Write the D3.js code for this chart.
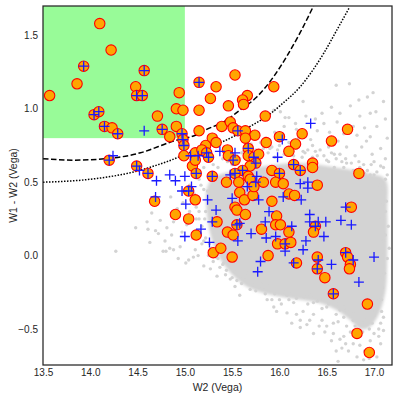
<!DOCTYPE html>
<html><head><meta charset="utf-8">
<script src="https://cdn.jsdelivr.net/npm/d3@7/dist/d3.min.js"></script>
<style>body{margin:0;background:#fff}text{font-family:"Liberation Sans",Arial,sans-serif}</style>
</head><body><svg id="c" width="399" height="399"></svg>
<script>
const xTicks=[13.5,14.0,14.5,15.0,15.5,16.0,16.5,17.0];
const yTicks=[-0.5,0.0,0.5,1.0,1.5];
const xDomain=[13.5,17.19];
const yDomain=[-0.745,1.70];
const selBox=[[13.5,0.8],[15.0,1.70]];
const dashedCurve=[[13.50,0.66],[13.82,0.65],[14.17,0.66],[14.53,0.70],[14.88,0.78],[15.11,0.82],[15.23,0.86],[15.41,0.91],[15.58,0.99],[15.76,1.08],[15.94,1.22],[16.08,1.36],[16.22,1.52],[16.36,1.70]];
const dottedCurve=[[13.50,0.50],[14.00,0.52],[14.46,0.57],[14.81,0.64],[15.13,0.72],[15.34,0.76],[15.51,0.81],[15.69,0.88],[15.87,0.95],[16.04,1.04],[16.22,1.15],[16.36,1.27],[16.47,1.38],[16.61,1.54],[16.74,1.69]];
const grayCore=[[15.30,0.53],[15.55,0.58],[15.85,0.61],[16.20,0.63],[16.60,0.60],[16.95,0.56],[17.12,0.52],[17.14,0.30],[17.14,0.00],[17.12,-0.25],[17.05,-0.40],[16.95,-0.49],[16.85,-0.50],[16.75,-0.44],[16.60,-0.37],[16.40,-0.32],[16.10,-0.29],[15.85,-0.26],[15.65,-0.21],[15.50,-0.13],[15.37,-0.02],[15.28,0.12],[15.23,0.30],[15.23,0.45]];
const grayPts=[
[16.60,1.16],[16.74,1.17],[16.93,1.08],[16.84,1.06],[17.10,1.05],[16.99,1.11],[16.25,1.05],[16.45,0.97],[16.64,0.97],[16.85,0.95],[16.96,0.97],[17.12,0.93],[16.01,0.98],[16.10,0.94],[16.17,0.90],[16.47,0.90],[16.61,0.91],[16.78,0.88],[17.03,0.88],[16.40,0.85],[16.82,0.82],[16.96,0.81],[17.14,0.80],[16.33,0.79],[16.62,0.78],[16.71,0.74],[16.87,0.74],[17.07,0.73],[16.43,0.72],[16.25,0.71],[16.64,0.69],[16.80,0.68],[16.98,0.69],[17.12,0.66],[16.50,0.65],[16.71,0.63],[16.89,0.62],[17.07,0.61],[17.14,0.55],[16.96,0.55],[16.06,0.94],[15.94,0.99],[16.18,0.86],
[15.80,0.77],[15.83,0.73],[15.69,0.72],[15.70,0.76],[15.85,0.80],[15.95,0.84],[16.05,0.88],[15.92,0.74],[16.20,0.80],[16.10,0.77],[15.60,0.70],[15.40,0.66],[15.30,0.62],[15.20,0.60],[15.15,0.52],[15.05,0.48],[15.10,0.58],
[16.53,0.84],[16.28,0.95],[16.90,0.87],[16.55,1.01],[16.75,1.02],[16.38,0.93],[17.02,0.98],[16.68,0.83],[16.92,0.78],[16.52,0.74],[16.35,0.67],[16.58,0.60],[16.78,0.58],[17.00,0.64],
[15.55,0.68],[15.65,0.74],[15.75,0.72],[15.90,0.73],[16.00,0.75],[16.20,0.74],[16.30,0.72],[16.35,0.75],[16.55,0.70],[16.60,0.66],[16.70,0.66],[16.85,0.60],[16.90,0.56],[17.00,0.50],[16.40,0.68],[16.15,0.68],
[15.35,0.60],[15.45,0.64],[15.58,0.66],[15.62,0.71],[15.72,0.69],[15.88,0.70],[15.98,0.72],[16.08,0.71],[16.18,0.73],[16.27,0.70],[16.38,0.71],[16.47,0.68],[16.58,0.69],[16.66,0.64],[16.76,0.63],[16.84,0.64],[16.93,0.58],[17.03,0.57],[16.97,0.62],
[15.50,0.62],[15.68,0.66],[15.78,0.65],[15.95,0.67],[16.05,0.69],[16.24,0.67],[16.52,0.64],[16.68,0.60],[16.82,0.56],[17.00,0.55],
[14.27,0.03],[14.48,0.19],[14.60,0.23],[14.61,0.18],[14.63,0.09],[14.72,0.15],[14.79,0.10],[14.86,0.14],[14.80,0.03],[14.88,0.04],[14.95,0.06],[15.01,-0.05],[14.97,0.16],[15.02,0.21],[15.11,0.04],[15.09,-0.01],[14.88,0.23],[14.74,0.24],[14.65,0.29],[14.81,0.19],[14.69,0.17],[14.77,0.03],[14.84,0.05],[15.04,-0.03],[15.14,0.00],[15.20,-0.07],[15.27,-0.09],[15.44,-0.10],[15.34,-0.14],[15.48,-0.16],[15.53,-0.21],[15.58,-0.27],[15.69,-0.23],[15.80,-0.19],[15.66,-0.12],
[14.92,0.32],[15.05,0.30],[14.98,0.36],[15.10,0.42],[14.85,0.40],[15.15,0.25],[15.08,0.12],[15.18,0.08],[14.93,-0.02],[15.22,0.30],
[15.17,0.48],[15.14,0.40],[15.12,0.33],[15.16,0.16],[15.20,0.10],[15.25,0.00],[15.30,-0.04],[15.37,-0.08],[15.43,-0.13],[15.55,-0.17],[15.62,-0.15],[15.72,-0.20],[15.82,-0.22],[15.95,-0.26],[16.05,-0.25],[16.18,-0.29],[16.26,-0.28],[16.40,-0.31],[16.52,-0.33],[16.62,-0.33],[16.78,-0.38],[16.86,-0.40],[16.98,-0.38],[17.05,-0.30],[17.08,-0.38],
[15.24,0.44],[15.21,0.25],[15.26,0.08],[15.33,-0.01],[15.41,-0.05],[15.52,-0.11],[15.76,-0.16],[15.88,-0.21],[16.12,-0.24],[16.33,-0.27],[16.46,-0.29],[16.70,-0.34],[16.88,-0.35],
[15.94,-0.35],[16.08,-0.39],[16.22,-0.44],[16.29,-0.47],[16.36,-0.40],[16.45,-0.44],[16.50,-0.48],[16.57,-0.53],[16.64,-0.57],[16.66,-0.63],[16.73,-0.65],[16.62,-0.72],[16.85,-0.61],[17.00,-0.53],[17.07,-0.60],[17.03,-0.69],[16.89,-0.71],[17.10,-0.51],[17.00,-0.41],[16.71,-0.48],[16.78,-0.44],[16.57,-0.46],[16.36,-0.53],[16.22,-0.49],[16.13,-0.46],[15.97,-0.38],[15.87,-0.30],[16.15,-0.32],[16.08,-0.27],[16.68,-0.55],[16.82,-0.69],[16.96,-0.58],[16.64,-0.37],[16.50,-0.35],[16.36,-0.32],[16.71,-0.37],[17.00,-0.35],[17.07,-0.46],
[16.62,-0.45],[16.68,-0.42],[16.75,-0.52],[16.80,-0.48],[16.88,-0.52],[16.92,-0.42],[16.98,-0.46],[17.05,-0.55],[16.70,-0.60],[16.78,-0.60],[16.90,-0.65],[16.95,-0.70],[16.60,-0.65],[16.55,-0.58],[16.48,-0.52],[16.42,-0.48],[16.32,-0.44],[16.25,-0.38],[16.18,-0.40],[16.02,-0.33],[15.92,-0.30],[17.05,-0.50],[17.10,-0.42],[16.85,-0.55],
[17.10,0.45],[17.12,0.30],[17.15,0.20],[17.10,0.10],[17.14,-0.02],[17.11,-0.12],[17.09,-0.22],[17.13,0.37],[17.08,-0.30],[17.16,0.05],[17.12,0.52],[17.10,0.60],
[17.06,0.48],[17.08,0.25],[17.07,0.02],[17.06,-0.15],[17.12,0.14],[17.09,0.35],
[15.20,0.45],[15.15,0.30],[15.12,0.25],[15.18,0.20],[15.22,0.12],[15.28,0.05],[15.35,-0.02],[15.40,-0.06],[15.50,-0.15],[15.60,-0.19],[15.75,-0.24],[15.85,-0.26],[16.00,-0.30],[16.10,-0.30],[16.30,-0.33],[16.45,-0.36],[16.60,-0.40],[16.75,-0.40],[16.90,-0.45],[16.95,-0.50]
];
const orangePts=[
[13.57,1.09],[14.10,1.58],[14.22,1.40],[13.93,1.29],[13.86,1.17],[14.48,1.15],[14.49,1.09],[14.55,1.09],[14.57,1.26],[14.94,1.11],
[14.04,0.96],[14.09,0.98],[14.15,0.88],[14.23,0.87],[14.29,0.83],[14.71,0.95],[14.76,0.86],[14.84,0.81],[14.91,0.88],[14.91,1.00],
[14.98,0.99],[14.97,0.83],[14.98,0.79],[14.99,0.75],[15.15,1.18],[15.15,0.99],[15.15,0.85],[14.99,0.68],[15.08,0.61],[15.12,0.56],
[15.11,0.70],[14.20,0.65],[14.49,0.61],[14.61,0.56],[14.68,0.37],[15.04,0.44],[15.11,0.38],
[15.53,1.23],[15.33,1.15],[15.27,1.07],[15.66,1.09],[15.61,1.06],[15.62,1.03],[15.46,1.02],[15.85,0.95],[15.94,1.15],
[15.39,0.88],[15.48,0.91],[15.51,0.87],[15.56,0.85],[15.64,0.85],[15.74,0.82],[15.64,0.80],[15.29,0.80],[15.22,0.75],[15.18,0.72],
[15.23,0.70],[15.25,0.67],[15.11,0.65],[15.45,0.72],[15.46,0.68],[15.53,0.65],[15.67,0.73],[15.67,0.68],[15.73,0.67],[15.78,0.69],
[15.75,0.63],[15.69,0.61],[15.61,0.58],[15.53,0.56],[15.67,0.54],[15.29,0.54],[15.86,0.77],[15.33,0.77],
[16.72,0.86],[16.55,0.78],[16.24,0.83],[16.00,0.81],[16.17,0.76],[16.10,0.71],[16.15,0.62],[16.22,0.58],[16.35,0.63],[16.35,0.60],
[15.92,0.58],[16.00,0.56],[16.84,0.56],[15.69,0.52],[15.83,0.50],[15.96,0.50],[16.04,0.49],[16.40,0.48],[15.58,0.43],[15.63,0.38],
[16.10,0.42],[16.16,0.41],[15.44,0.50],[15.57,0.50],[15.72,0.41],[15.73,0.47],[15.53,0.33],[15.55,0.31],[15.64,0.28],
[14.90,0.28],[15.04,0.25],[15.12,0.14],[15.34,0.23],[15.45,0.16],[15.51,0.14],[15.55,0.21],[15.30,0.02],[15.38,0.05],[15.50,-0.01],
[15.81,0.18],[15.88,0.00],[15.92,0.37],[15.97,0.27],[15.96,0.21],[16.01,0.21],[16.10,0.16],[15.98,0.08],[16.06,0.08],[16.12,0.09],
[16.18,-0.05],[16.38,0.20],[16.36,0.16],[16.76,0.33],[16.70,0.02],[16.72,-0.01],[16.75,-0.06],[16.74,-0.09],[16.40,-0.01],[16.40,-0.09],
[16.48,-0.15],[16.57,-0.26],[16.93,-0.33],[16.82,-0.53],[16.95,-0.66]
];
const bluePts=[
[13.93,1.29],[14.49,1.09],[14.55,1.09],[14.57,1.26],[14.04,0.96],[14.09,0.98],[14.15,0.88],[14.29,0.83],[14.76,0.86],[14.97,0.83],[14.98,0.79],[14.99,0.75],[15.15,1.18],[15.12,0.56],[14.20,0.65],[14.24,0.68],[14.49,0.61],[14.61,0.56],[15.04,0.44],[15.56,0.85],[15.23,0.70],[15.25,0.67],[15.67,0.73],[15.73,0.67],[15.75,0.63],[15.61,0.58],[15.53,0.56],[15.29,0.54],[16.03,0.79],[16.15,0.62],[16.22,0.58],[16.00,0.56],[15.55,0.21],[16.06,0.08],[16.38,0.20],[16.70,0.02],[16.40,-0.09],[14.69,0.40],
[14.57,0.85],[14.52,0.58],[14.70,0.51],[14.84,0.55],[14.90,0.51],[15.00,0.54],[14.97,0.44],[15.06,0.68],[15.01,0.35],[15.00,0.13],[15.14,0.68],[15.37,0.71],[15.53,0.70],[15.51,0.65],[15.48,0.55],[15.76,0.54],[16.33,0.90],[15.98,0.67],[15.07,0.47],[15.24,0.38],[15.33,0.31],[15.29,0.23],[15.17,0.18],[15.26,0.09],[15.56,0.10],[15.58,0.22],[15.70,0.15],[15.85,0.23],[15.86,0.12],[15.80,-0.04],[15.77,-0.11],[15.50,0.39],[15.78,0.38],[15.66,0.47],[15.75,0.50],[15.89,0.30],[16.22,0.49],[16.30,0.50],[16.30,0.46],[16.04,0.40],[16.23,0.38],[16.32,0.28],[16.32,0.23],[16.41,0.23],[16.49,0.23],[16.65,0.24],[16.76,0.21],[16.13,0.20],[16.47,0.13],[15.96,0.13],[16.28,0.10],[16.25,0.04],[16.15,-0.05],[16.41,-0.03],[16.55,-0.06],[16.78,-0.03],[17.00,-0.01],[16.70,0.33],[16.84,-0.18],[16.57,-0.26],[16.06,0.03]
];
const xLabel="W2 (Vega)", yLabel="W1 - W2 (Vega)";

const W=399,H=399,m={l:43,t:6,r:7,b:34};
const svg=d3.select('#c');
const x=d3.scaleLinear().domain(xDomain).range([m.l,W-m.r]);
const y=d3.scaleLinear().domain(yDomain).range([H-m.b,m.t]);
const defs=svg.append('defs');
defs.append('clipPath').attr('id','clip').append('rect')
  .attr('x',m.l).attr('y',m.t).attr('width',W-m.l-m.r).attr('height',H-m.t-m.b);
defs.append('filter').attr('id','soft').attr('x','-10%').attr('y','-10%').attr('width','120%').attr('height','120%')
  .append('feGaussianBlur').attr('stdDeviation',1.6);
const g=svg.append('g').attr('clip-path','url(#clip)');

g.append('rect').attr('x',x(selBox[0][0])).attr('y',y(selBox[1][1]))
 .attr('width',x(selBox[1][0])-x(selBox[0][0])).attr('height',y(selBox[0][1])-y(selBox[1][1]))
 .attr('fill','#98fb98');

g.append('path').datum(grayCore)
 .attr('d',d3.line().x(d=>x(d[0])).y(d=>y(d[1])).curve(d3.curveCatmullRomClosed))
 .attr('fill','#d3d3d3').attr('filter','url(#soft)');
g.selectAll('.gp').data(grayPts).join('circle').attr('class','gp')
 .attr('cx',d=>x(d[0])).attr('cy',d=>y(d[1])).attr('r',1.7).attr('fill','#d3d3d3');

const ln=d3.line().x(d=>x(d[0])).y(d=>y(d[1])).curve(d3.curveMonotoneX);
g.append('path').datum(dashedCurve).attr('d',ln).attr('fill','none')
 .attr('stroke','#000').attr('stroke-width',1.5).attr('stroke-dasharray','5.5,2.5');
g.append('path').datum(dottedCurve).attr('d',ln).attr('fill','none')
 .attr('stroke','#000').attr('stroke-width',1.5).attr('stroke-dasharray','1.5,1.5');

g.selectAll('.op').data(orangePts).join('circle').attr('class','op')
 .attr('cx',d=>x(d[0])).attr('cy',d=>y(d[1])).attr('r',5.2)
 .attr('fill','#ffa500').attr('stroke','#ff0000').attr('stroke-width',1.1);

g.selectAll('.bp').data(bluePts).join('path').attr('class','bp')
 .attr('d',d=>{const cx=x(d[0]),cy=y(d[1]),s=5;return `M${cx-s},${cy}H${cx+s}M${cx},${cy-s}V${cy+s}`;})
 .attr('stroke','#1a1aff').attr('stroke-width',1.3).attr('fill','none');

const xa=svg.append('g').attr('transform',`translate(0,${H-m.b})`)
 .call(d3.axisBottom(x).tickValues(xTicks).tickSize(0).tickPadding(4).tickFormat(d3.format('.1f')));
const ya=svg.append('g').attr('transform',`translate(${m.l},0)`)
 .call(d3.axisLeft(y).tickValues(yTicks).tickSize(0).tickPadding(5).tickFormat(d3.format('.1f')));
[xa,ya].forEach(a=>{a.select('.domain').remove();a.selectAll('text').attr('font-size',10).attr('fill','#262626')
  .attr('font-family','"Liberation Sans",Arial,sans-serif');});

svg.append('rect').attr('x',m.l).attr('y',m.t).attr('width',W-m.l-m.r).attr('height',H-m.t-m.b)
 .attr('fill','none').attr('stroke','#262626').attr('stroke-width',1.25);

svg.append('text').attr('x',(m.l+W-m.r)/2).attr('y',391).attr('text-anchor','middle')
 .attr('font-size',10.5).attr('fill','#262626').text(xLabel);
svg.append('text').attr('transform',`translate(17,${(m.t+H-m.b)/2}) rotate(-90)`).attr('text-anchor','middle')
 .attr('font-size',10.5).attr('fill','#262626').text(yLabel);
</script></body></html>
